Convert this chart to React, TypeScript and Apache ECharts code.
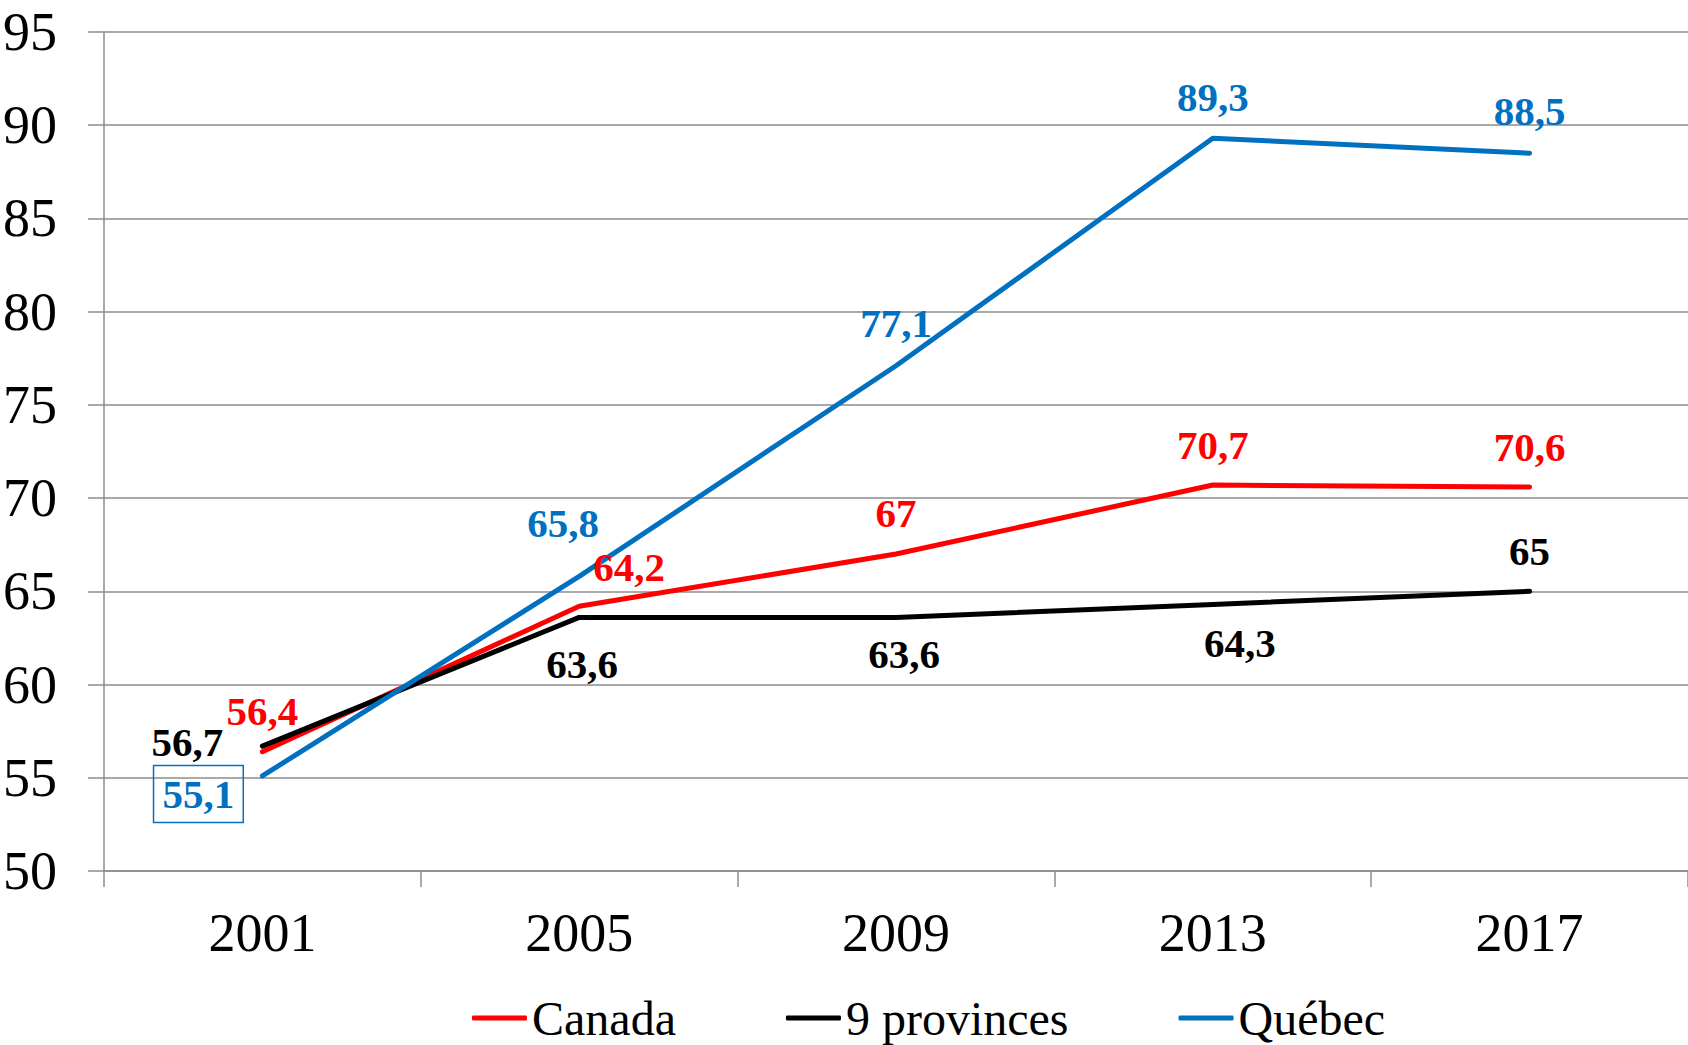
import React, { useEffect, useRef } from "react";
import * as echarts from "echarts";

const years = ["2001", "2005", "2009", "2013", "2017"];
const canada = [56.4, 64.2, 67, 70.7, 70.6];
const provinces9 = [56.7, 63.6, 63.6, 64.3, 65];
const quebec = [55.1, 65.8, 77.1, 89.3, 88.5];

const canadaOffsets = [[0, -41], [50, -39], [0, -41], [0, -40], [0, -40]];
const provOffsets = [[-75, -4], [3, 47], [8, 37], [27, 39], [0, -40]];
const quebecOffsets = [[-64, 18], [-16, -53], [0, -43], [0, -41], [0, -42]];

const FONT = "'Liberation Serif', 'Times New Roman', serif";
const RED = "#ff0000";
const BLACK = "#000000";
const BLUE = "#0070c0";
const GRID = "#8c8c8c";

const fmt = (v: number) => String(v).replace(".", ",");

function buildData(values: number[], offsets: number[][], boxFirst = false, color = BLUE) {
  return values.map((v, i) => {
    const label: any = { offset: offsets[i] };
    if (boxFirst && i === 0) {
      label.borderColor = color;
      label.borderWidth = 1.5;
      label.padding = [8, 9, 8, 9];
      label.lineHeight = 41;
    }
    return { value: v, label };
  });
}

function makeSeries(name: string, color: string, values: number[], offsets: number[][], boxFirst = false) {
  return {
    name,
    type: "line",
    data: buildData(values, offsets, boxFirst, color),
    symbol: "circle",
    symbolSize: 2,
    showSymbol: true,
    itemStyle: { color },
    lineStyle: { color, width: 5, cap: "round", join: "round" },
    label: {
      show: true,
      position: "inside",
      color,
      fontFamily: FONT,
      fontWeight: "bold",
      fontSize: 41,
      formatter: (p: any) => fmt(p.value),
    },
  };
}

export default function App() {
  const ref = useRef<HTMLDivElement>(null);
  useEffect(() => {
    document.body.style.margin = "0";
    if (!ref.current) return;
    const chart = echarts.init(ref.current, null, { renderer: "svg" });
    chart.setOption({
      animation: false,
      backgroundColor: "#ffffff",
      grid: { left: 104, right: 0, top: 32, bottom: 174, containLabel: false },
      legend: {
        left: 472,
        top: 993,
        itemWidth: 55,
        itemHeight: 5,
        itemGap: 110,
        icon: "roundRect",
        padding: 0,
        textStyle: { fontFamily: FONT, fontSize: 48, color: "#000", lineHeight: 50 },
        data: ["Canada", "9 provinces", "Québec"],
      },
      xAxis: {
        type: "category",
        data: years,
        boundaryGap: true,
        axisLine: { show: true, lineStyle: { color: GRID, width: 1.5 } },
        axisTick: { show: true, length: 16, lineStyle: { color: GRID, width: 1.5 } },
        axisLabel: { fontFamily: FONT, fontSize: 54, color: "#000", margin: 35 },
        splitLine: { show: false },
      },
      yAxis: {
        type: "value",
        min: 50,
        max: 95,
        interval: 5,
        axisLine: { show: true, lineStyle: { color: GRID, width: 1.5 } },
        axisTick: { show: true, length: 16, lineStyle: { color: GRID, width: 1.5 } },
        axisLabel: { fontFamily: FONT, fontSize: 54, color: "#000", margin: 47 },
        splitLine: { show: true, lineStyle: { color: GRID, width: 1.5 } },
      },
      series: [
        makeSeries("Canada", RED, canada, canadaOffsets),
        makeSeries("9 provinces", BLACK, provinces9, provOffsets),
        makeSeries("Québec", BLUE, quebec, quebecOffsets, true),
      ],
    });
    return () => chart.dispose();
  }, []);
  return <div ref={ref} style={{ width: 1688, height: 1045 }} />;
}
